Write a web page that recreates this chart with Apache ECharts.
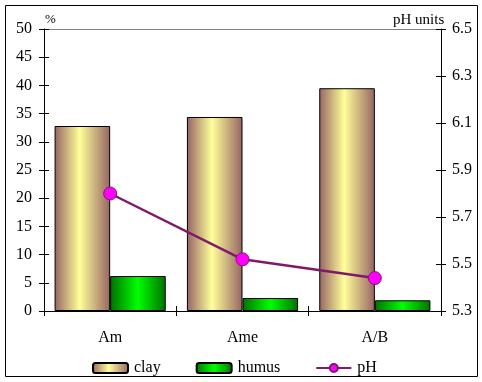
<!DOCTYPE html>
<html>
<head>
<meta charset="utf-8">
<script src="https://cdn.jsdelivr.net/npm/echarts@6/dist/echarts.min.js"></script>
<style>
  html, body { margin: 0; padding: 0; background: #fff; }
  #chart { width: 482px; height: 382px; }
</style>
</head>
<body>
<div id="chart"></div>
<script>
// Soil horizons and their measured properties
const horizons = ['Am', 'Ame', 'A/B'];
const clay = [32.8, 34.4, 39.5];   // %
const humus = [6.2, 2.3, 1.9];     // %
const ph = [5.80, 5.52, 5.44];     // pH units

const leftTicks = { min: 0, max: 50, interval: 5 };
const rightTicks = { min: 5.3, max: 6.5, interval: 0.2 };

const FONT = 'Liberation Serif';
const hGrad = (edge, mid, pos) => ({
  type: 'linear', x: 0, y: 0, x2: 1, y2: 0,
  colorStops: [
    { offset: 0, color: edge },
    { offset: pos, color: mid },
    { offset: 1, color: edge }
  ]
});

const chart = echarts.init(document.getElementById('chart'));
const tickStyle = { color: '#000', width: 1 };
const noLine = { show: false };

chart.setOption({
  animation: false,
  textStyle: { fontFamily: FONT, color: '#000' },
  grid: { left: 44, right: 41, top: 29, bottom: 71, containLabel: false },
  graphic: [
    { type: 'rect', shape: { x: 5.5, y: 5.5, width: 472, height: 371 },
      style: { fill: 'none', stroke: '#000', lineWidth: 1 } },
    { type: 'text', left: 45, top: 13,
      style: { text: '%', font: '13px ' + FONT, fill: '#000' } },
    { type: 'text', left: 393, top: 13,
      style: { text: 'pH units', font: '15px ' + FONT, fill: '#000' } }
  ],
  legend: {
    bottom: 6, left: 92, padding: 0,
    itemWidth: 35, itemHeight: 10, itemGap: 35,
    textStyle: { fontFamily: FONT, fontSize: 16, color: '#000', padding: [0, 0, 0, 1] },
    data: ['clay', 'humus', 'pH']
  },
  xAxis: [
    {
      type: 'category', data: horizons, position: 'bottom',
      axisLine: { show: true, lineStyle: { color: '#000' } },
      axisTick: { show: true, inside: false, length: 5, lineStyle: tickStyle },
      axisLabel: { fontSize: 16, fontFamily: FONT, color: '#000', margin: 19 },
      splitLine: noLine
    },
    {
      type: 'category', data: horizons, position: 'bottom',
      axisLine: noLine,
      axisTick: { show: true, inside: true, length: 5, lineStyle: tickStyle },
      axisLabel: { show: false }, splitLine: noLine
    },
    {
      type: 'category', data: horizons, position: 'top',
      axisLine: { show: true, lineStyle: { color: '#808080' } },
      axisTick: noLine, axisLabel: { show: false }, splitLine: noLine
    }
  ],
  yAxis: [
    {
      type: 'value', position: 'left', ...leftTicks,
      axisLine: { show: true, lineStyle: { color: '#000' } },
      axisTick: { show: true, inside: false, length: 5, lineStyle: tickStyle },
      axisLabel: { fontSize: 16, fontFamily: FONT, color: '#000', margin: 12 },
      splitLine: noLine
    },
    {
      type: 'value', position: 'right', ...rightTicks,
      axisLine: { show: true, lineStyle: { color: '#000' } },
      axisTick: { show: true, inside: false, length: 5, lineStyle: tickStyle },
      axisLabel: { fontSize: 16, fontFamily: FONT, color: '#000', margin: 11,
                   formatter: v => v.toFixed(1) },
      splitLine: noLine
    },
    {
      type: 'value', position: 'left', ...leftTicks,
      axisLine: noLine,
      axisTick: { show: true, inside: true, length: 5, lineStyle: tickStyle },
      axisLabel: { show: false }, splitLine: noLine
    },
    {
      type: 'value', position: 'right', ...rightTicks,
      axisLine: noLine,
      axisTick: { show: true, inside: true, length: 5, lineStyle: tickStyle },
      axisLabel: { show: false }, splitLine: noLine
    }
  ],
  series: [
    {
      name: 'clay', type: 'bar', data: clay,
      barGap: '0%', barCategoryGap: '16%',
      itemStyle: { color: hGrad('#966464', '#ffff9a', 0.45), borderColor: '#000', borderWidth: 1 }
    },
    {
      name: 'humus', type: 'bar', data: humus,
      itemStyle: { color: hGrad('#007000', '#00ff00', 0.5), borderColor: '#000', borderWidth: 1 }
    },
    {
      name: 'pH', type: 'line', yAxisIndex: 1, data: ph,
      symbol: 'circle', symbolSize: 13,
      lineStyle: { color: '#80186c', width: 2.5 },
      itemStyle: { color: '#ff00ff', borderColor: '#80186c', borderWidth: 1 }
    }
  ]
});
</script>
</body>
</html>
